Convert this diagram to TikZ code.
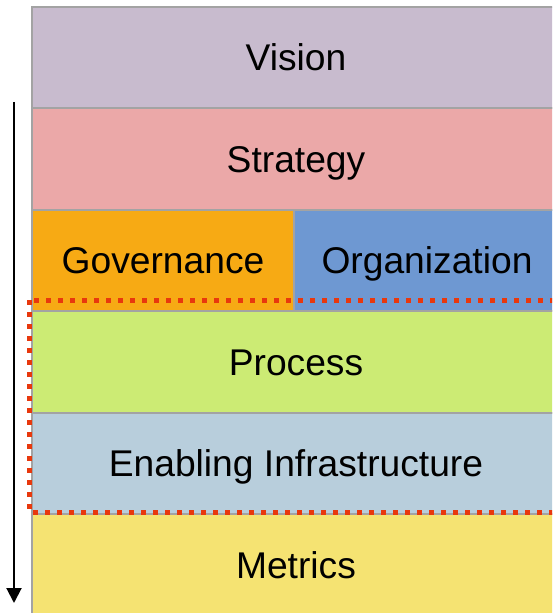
\documentclass[tikz,border=0pt]{standalone}
\usepackage{fontspec}
\setmainfont{Liberation Sans}
\usetikzlibrary{positioning, calc, arrows.meta}

\definecolor{visioncol}{HTML}{C8BBCE}
\definecolor{strategycol}{HTML}{EBA8A8}
\definecolor{govcol}{HTML}{F7AA14}
\definecolor{orgcol}{HTML}{6E98D2}
\definecolor{processcol}{HTML}{CCEB74}
\definecolor{infracol}{HTML}{B8CEDC}
\definecolor{metricscol}{HTML}{F5E372}
\definecolor{edgecol}{HTML}{A3A3A3}
\definecolor{dotcol}{HTML}{E8380D}

\tikzset{
  layer/.style={draw=edgecol, line width=1pt, outer sep=0pt, inner sep=0pt,
                minimum width=264pt, minimum height=50.7pt,
                text height=13.3pt, text depth=0pt,
                font=\fontsize{18.6}{22}\selectfont},
  halflayer/.style={layer, minimum width=#1},
  focusbox/.style={draw=dotcol, line width=2.5pt, dash pattern=on 2.5pt off 3.5pt}
}

\begin{document}
\begin{tikzpicture}
\useasboundingbox (0,0) rectangle (276pt,-306.5pt);
\clip (0,0) rectangle (276pt,-306.5pt);

% stack of layers
\node[layer, fill=visioncol, anchor=north west] (vision) at (16pt,-3.5pt) {Vision};
\node[layer, fill=strategycol, below=0pt of vision] (strategy) {Strategy};
\node[halflayer=131pt, fill=govcol, below right=0pt of strategy.south west] (gov) {Governance};
\node[halflayer=133pt, fill=orgcol, right=0pt of gov] (org) {Organization};
\node[layer, fill=processcol, below right=0pt of gov.south west] (process) {Process};
\node[layer, fill=infracol, below=0pt of process] (infra) {Enabling Infrastructure};
\node[layer, fill=metricscol, below=0pt of infra] (metrics) {Metrics};

% highlighted part
\draw[focusbox] ($(process.north west)+(-1.5pt,5.5pt)$) rectangle ($(infra.south east)+(0pt,1pt)$);

% direction
\coordinate (flowtop) at (7pt,-51pt);
\coordinate (flowend) at (7pt,-301.5pt);
\draw[line width=1pt, -{Triangle[width=7.5pt,length=7.5pt]}] (flowtop) -- (flowend);

\end{tikzpicture}
\end{document}
